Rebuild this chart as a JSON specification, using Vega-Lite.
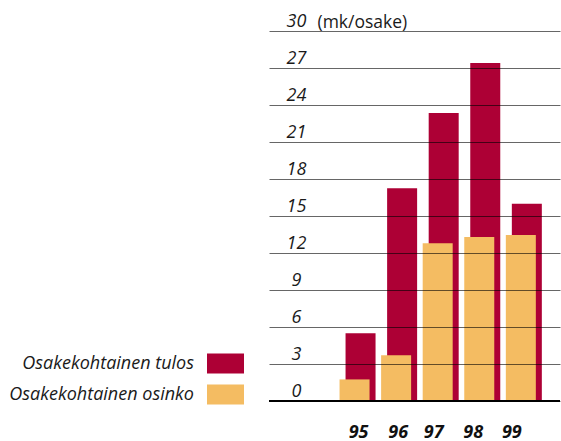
{
  "$schema": "https://vega.github.io/schema/vega-lite/v6.json",
  "autosize": {"type": "none"},
  "padding": {"left": 269, "top": 31, "right": 1, "bottom": 40},
  "width": 291,
  "height": 370,
  "background": "white",
  "config": {
    "view": {"stroke": null},
    "font": "Open Sans",
    "axis": {"labelColor": "#1a1a1a", "titleColor": "#1a1a1a"}
  },
  "data": {
    "values": [
      {"vuosi": "95", "sarja": "Osakekohtainen tulos", "arvo": 5.5},
      {"vuosi": "96", "sarja": "Osakekohtainen tulos", "arvo": 17.25},
      {"vuosi": "97", "sarja": "Osakekohtainen tulos", "arvo": 23.35},
      {"vuosi": "98", "sarja": "Osakekohtainen tulos", "arvo": 27.4},
      {"vuosi": "99", "sarja": "Osakekohtainen tulos", "arvo": 16.0},
      {"vuosi": "95", "sarja": "Osakekohtainen osinko", "arvo": 1.75},
      {"vuosi": "96", "sarja": "Osakekohtainen osinko", "arvo": 3.7},
      {"vuosi": "97", "sarja": "Osakekohtainen osinko", "arvo": 12.8},
      {"vuosi": "98", "sarja": "Osakekohtainen osinko", "arvo": 13.3},
      {"vuosi": "99", "sarja": "Osakekohtainen osinko", "arvo": 13.45}
    ]
  },
  "encoding": {
    "x": {
      "field": "vuosi", "type": "nominal", "sort": null,
      "scale": {"paddingInner": 0, "paddingOuter": 1, "align": 0.815},
      "axis": {
        "title": null, "domain": false, "ticks": false, "tickSize": 0, "grid": false,
        "labelAngle": 0, "labelFont": "Open Sans", "labelFontSize": 18,
        "labelFontStyle": "italic", "labelFontWeight": "bold", "labelColor": "#111111",
        "labelBaseline": "alphabetic", "labelPadding": 36,
        "labelOffset": {"condition": [
          {"test": "datum.value === '95'", "value": 1},
          {"test": "datum.value === '96'", "value": -1},
          {"test": "datum.value === '97'", "value": -7},
          {"test": "datum.value === '98'", "value": -9},
          {"test": "datum.value === '99'", "value": -12}
        ], "value": 0}
      }
    },
    "y": {
      "field": "arvo", "type": "quantitative",
      "scale": {"domain": [0, 30], "nice": false},
      "axis": {
        "values": [0, 3, 6, 9, 12, 15, 18, 21, 24, 27, 30],
        "domain": false, "ticks": false, "tickSize": 0,
        "grid": true, "gridColor": "#000000", "gridOpacity": 0.6, "gridWidth": 1,
        "zindex": 1,
        "labelFont": "Open Sans", "labelFontSize": 18, "labelFontStyle": "italic", "labelFontWeight": "normal",
        "labelAlign": "center", "labelPadding": -27, "labelBaseline": "alphabetic", "labelOffset": -5,
        "labelFlush": false, "labelOverlap": false,
        "title": "(mk/osake)", "titleAngle": 0, "titleX": 48, "titleY": -4,
        "titleAlign": "left", "titleBaseline": "alphabetic",
        "titleFont": "Open Sans", "titleFontSize": 17.5, "titleFontWeight": "normal"
      }
    },
    "color": {
      "field": "sarja", "type": "nominal",
      "scale": {"domain": ["Osakekohtainen tulos", "Osakekohtainen osinko"], "range": ["#AD0035", "#F4BC62"]},
      "legend": {
        "orient": "none", "legendX": -62, "legendY": 314, "title": null,
        "padding": 0, "rowPadding": 2,
        "symbolType": "M-1,-0.54H1V0.54H-1Z", "symbolSize": 1369,
        "symbolStrokeWidth": 0, "symbolOpacity": 1,
        "labelAlign": "right", "labelOffset": -50, "labelLimit": 400,
        "labelFont": "Open Sans", "labelFontSize": 18, "labelFontStyle": "italic", "labelFontWeight": "normal",
        "labelColor": "#1a1a1a"
      }
    }
  },
  "layer": [
    {
      "transform": [{"filter": "datum.sarja === 'Osakekohtainen tulos'"}],
      "mark": {"type": "bar", "width": 30, "xOffset": 3}
    },
    {
      "transform": [{"filter": "datum.sarja === 'Osakekohtainen osinko'"}],
      "mark": {"type": "bar", "width": 30, "xOffset": -3}
    },
    {
      "mark": {"type": "rule", "color": "#000000", "strokeWidth": 2},
      "encoding": {"y": {"datum": 0}, "x": null, "color": null}
    }
  ]
}
